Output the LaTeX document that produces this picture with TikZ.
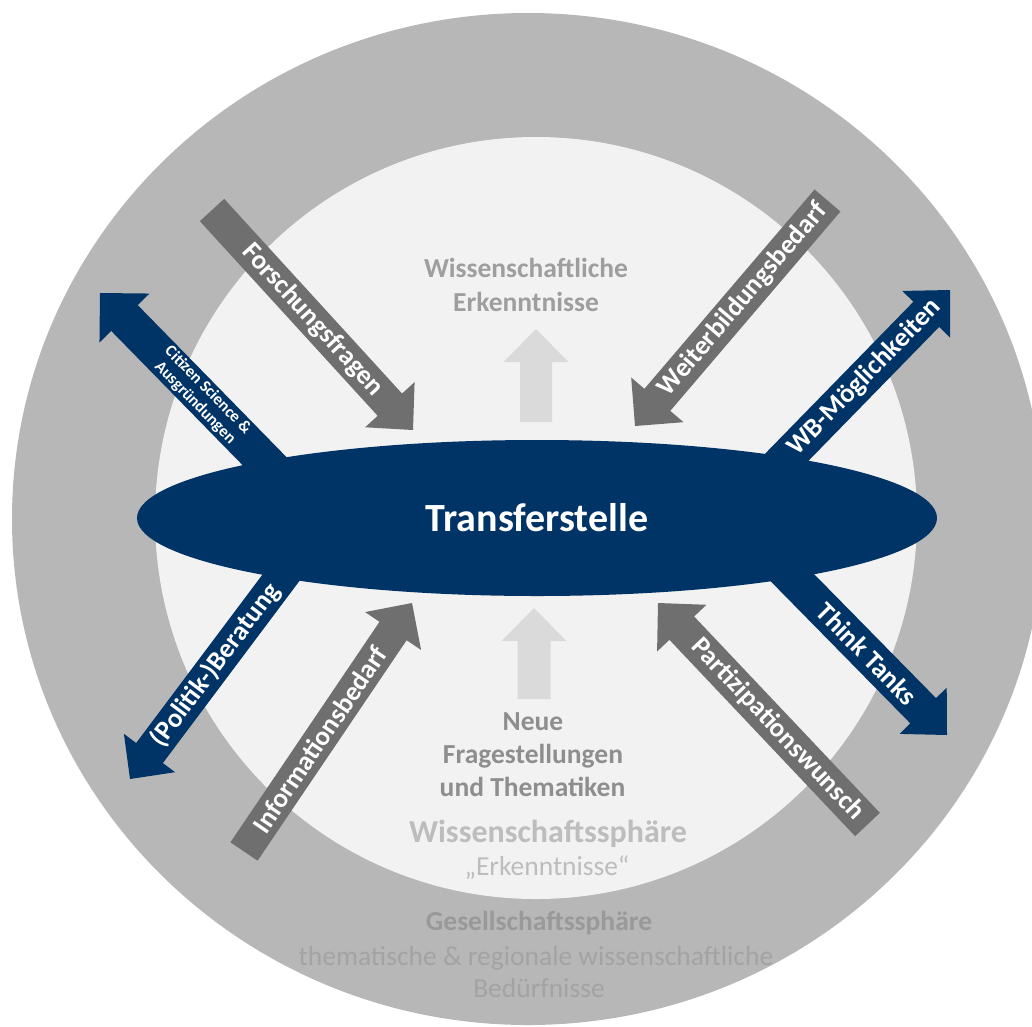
\documentclass[tikz,border=0pt]{standalone}
\usepackage{fontspec}
\setmainfont{Carlito}
\usetikzlibrary{calc,shapes.geometric}
\definecolor{ring}{HTML}{B7B7B7}
\definecolor{core}{HTML}{F2F2F2}
\definecolor{navy}{HTML}{003366}
\definecolor{darkg}{HTML}{6F6F6F}
\definecolor{lightg}{HTML}{DADADA}
\definecolor{txtA}{HTML}{9E9E9E}
\definecolor{txtB}{HTML}{8E8E8E}
\definecolor{txtC}{HTML}{BDBDBD}
\definecolor{txtD}{HTML}{999999}
\definecolor{txtE}{HTML}{A3A3A3}
% #1 tail, #2 tip, #3 half shaft width, #4 half head width, #5 head length, #6 fill colour
\newcommand\blockarrow[6]{%
  \coordinate (#1-h) at ($(#2)!#5pt!(#1)$);
  \fill[#6] ($(#1)!#3pt!90:(#2)$) -- ($(#1-h)!#3pt!90:(#2)$) -- ($(#1-h)!#4pt!90:(#2)$)
    -- (#2) -- ($(#1-h)!#4pt!-90:(#2)$) -- ($(#1-h)!#3pt!-90:(#2)$)
    -- ($(#1)!#3pt!-90:(#2)$) -- cycle;
}
\begin{document}
\begin{tikzpicture}[x=1pt,y=-1pt,
  lbl/.style={text=white, font=\bfseries\fontsize{27}{30}\selectfont, sloped, inner sep=0pt},
  bold/.style={anchor=base, inner sep=0pt, font=\bfseries\fontsize{27.5}{33}\selectfont},
  reg/.style={anchor=base, inner sep=0pt, font=\fontsize{27.5}{33}\selectfont}]
\useasboundingbox (0,0) rectangle (1032,1026);
\clip (0,0) rectangle (1032,1026);
\fill[white] (0,0) rectangle (1032,1026);
\fill[ring] (528,519) ellipse [x radius=516, y radius=506];
\fill[core] (536,518) circle [radius=381];

% coordinates
\coordinate (cs0) at (330,528);   \coordinate (cs1) at (100,293);
\coordinate (wb0) at (707,539);   \coordinate (wb1) at (950,290);
\coordinate (tt0) at (717,501);   \coordinate (tt1) at (947,735);
\coordinate (pb0) at (340,499);   \coordinate (pb1) at (130,779);
\coordinate (ff0) at (212,210);   \coordinate (ff1) at (413,430);
\coordinate (wf0) at (827.5,200.5); \coordinate (wf1) at (635,426);
\coordinate (ib0) at (244,851.5); \coordinate (ib1) at (412,603);
\coordinate (pw0) at (867.5,824.5); \coordinate (pw1) at (658,603);
\coordinate (up0) at (536,422);   \coordinate (up1) at (536,329);
\coordinate (lo0) at (534,699);   \coordinate (lo1) at (534,608);

% navy arrows (behind the ellipse)
\blockarrow{cs0}{cs1}{18.5}{35}{35}{navy}
\blockarrow{wb0}{wb1}{18}{33.5}{34}{navy}
\blockarrow{tt0}{tt1}{18}{33}{34}{navy}
\blockarrow{pb0}{pb1}{16.7}{32}{32.5}{navy}

\node[ellipse, fill=navy, minimum width=800pt, minimum height=156pt, inner sep=0pt,
  text=white, font=\bfseries\fontsize{40}{48}\selectfont] (ts) at (537,518) {Transferstelle};

% grey arrows
\blockarrow{ff0}{ff1}{16.5}{33.5}{34.3}{darkg}
\blockarrow{wf0}{wf1}{17}{34.4}{34.4}{darkg}
\blockarrow{ib0}{ib1}{16.4}{33.8}{33.8}{darkg}
\blockarrow{pw0}{pw1}{17}{34}{34.6}{darkg}

% light arrows
\blockarrow{up0}{up1}{16}{32.5}{33}{lightg}
\blockarrow{lo0}{lo1}{16.5}{32.5}{33}{lightg}

% arrow labels
\path (ff0) -- (ff1) node[lbl, pos=0.5] (lff) {Forschungsfragen};
\path (wf0) -- (wf1) node[lbl, pos=0.44] (lwf) {Weiterbildungsbedarf};
\path (ib0) -- (ib1) node[lbl, pos=0.45] (lib) {Informationsbedarf};
\path (pw0) -- (pw1) node[lbl, pos=0.43] (lpw) {Partizipationswunsch};
\path (wb0) -- (wb1) node[lbl, pos=0.648] (lwb) {WB-Möglichkeiten};
\path (tt0) -- (tt1) node[lbl, pos=0.653] (ltt) {Think Tanks};
\path (pb0) -- (pb1) node[lbl, pos=0.593] (lpb) {(Politik-)Beratung};
\path (cs0) -- (cs1) node[lbl, pos=0.559, align=center,
  font=\bfseries\fontsize{16.5}{18}\selectfont] (lcs) {Citizen Science \&\\Ausgründungen};

% texts
\node[bold, text=txtA] (we1) at (526,277) {Wissenschaftliche};
\node[bold, text=txtA] (we2) at (526,311.5) {Erkenntnisse};
\node[bold, text=txtB] (nf1) at (533,730) {Neue};
\node[bold, text=txtB] (nf2) at (533,763) {Fragestellungen};
\node[bold, text=txtB] (nf3) at (532.5,796) {und Thematiken};
\node[bold, text=txtC, font=\bfseries\fontsize{32}{38}\selectfont] (ws) at (548,842) {Wissenschaftssphäre};
\node[reg, text=txtC] (wse) at (547,875) {„Erkenntnisse“};
\node[bold, text=txtD] (gs) at (539,930) {Gesellschaftssphäre};
\node[reg, text=txtE] (gs1) at (536,965) {thematische \& regionale wissenschaftliche};
\node[reg, text=txtE] (gs2) at (539,997) {Bedürfnisse};
\end{tikzpicture}
\end{document}
